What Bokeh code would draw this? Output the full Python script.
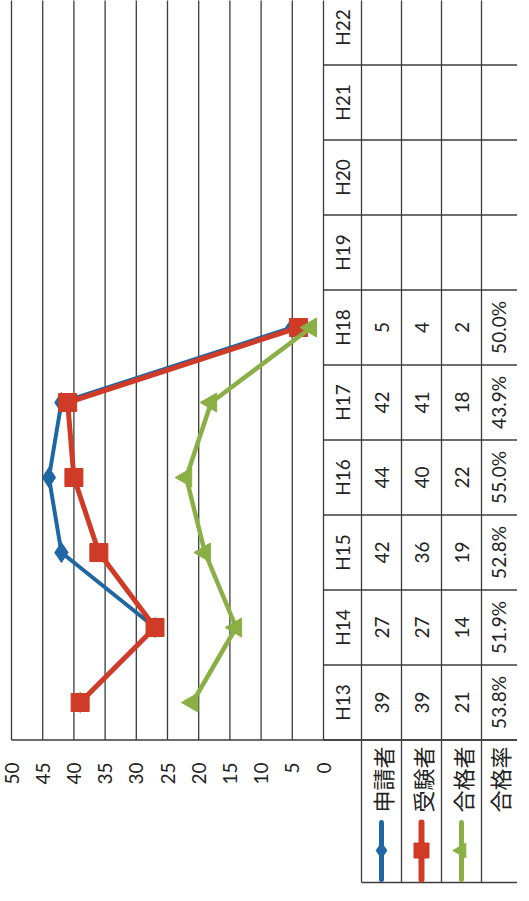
import math
from bokeh.plotting import figure
from bokeh.models import Range1d
from bokeh.core.properties import value
from bokeh.embed import file_html
from bokeh.resources import INLINE

categories = ["H13", "H14", "H15", "H16", "H17", "H18", "H19", "H20", "H21", "H22"]
applicants = [39, 27, 42, 44, 42, 5]      # 申請者
examinees = [39, 27, 36, 40, 41, 4]       # 受験者
passed = [21, 14, 19, 22, 18, 2]          # 合格者
pass_rate = ["53.8%", "51.9%", "52.8%", "55.0%", "43.9%", "50.0%"]  # 合格率
series_names = ["申請者", "受験者", "合格者", "合格率"]
ticks = [0, 5, 10, 15, 20, 25, 30, 35, 40, 45, 50]

BLUE = "#1F67A3"
RED = "#CF3B26"
GREEN = "#8AB045"
GRID = "#3c3c3c"
NUM_FONT = value("Lato")
JP_FONT = value("Noto Sans CJK JP")

W, H = 517, 885

# layout helpers: page pixel -> data units (value axis is horizontal, reversed; categories vertical)
def X(px):
    return (331 - px) / 6.24

def Y(py):
    return (710 - py) / 75.0

p = figure(width=W, height=H,
           x_range=Range1d(X(8), X(8 + W)), y_range=Range1d(Y(8 + H), Y(8)),
           output_backend="svg", toolbar_location=None, min_border=0,
           x_axis_location=None, y_axis_location=None)
p.grid.visible = False
p.outline_line_color = None
p.background_fill_color = "white"

n = len(categories)
idx = list(range(n))
top = n + 0.5

# value gridlines (vertical), incl. left border at 50
p.segment(x0=ticks, y0=[-0.5] * len(ticks), x1=ticks, y1=[top + 1] * len(ticks),
          line_color=GRID, line_width=1.3)
# bottom border of plot area
p.segment(x0=[max(ticks)], y0=[-0.5], x1=[X(540)], y1=[-0.5], line_color=GRID, line_width=1.3)

# tick labels
p.text(x=ticks, y=[Y(770)] * len(ticks), text=[str(t) for t in ticks], angle=math.pi / 2,
       text_align="right", text_baseline="middle", text_font=NUM_FONT,
       text_font_size="19px", text_color="#222222")

# data table grid
col_edges = [X(369), X(409), X(449), X(489)]
p.segment(x0=col_edges, y0=[Y(890)] * 4, x1=col_edges, y1=[top + 1] * 4,
          line_color=GRID, line_width=1.3)
row_edges = [i + 0.5 for i in range(-1, n)]
p.segment(x0=[0] * len(row_edges), y0=row_edges, x1=[X(540)] * len(row_edges), y1=row_edges,
          line_color=GRID, line_width=1.3)
p.segment(x0=[X(369)], y0=[Y(890)], x1=[X(540)], y1=[Y(890)], line_color=GRID, line_width=1.3)

# table texts
col_centers = [X(389), X(429), X(469), X(506)]
p.text(x=[X(350)] * n, y=idx, text=categories, angle=math.pi / 2,
       text_align="center", text_baseline="middle", text_font=NUM_FONT,
       text_font_size="19px", text_color="#222222")
for cx, vals in zip(col_centers, [applicants, examinees, passed, pass_rate]):
    p.text(x=[cx] * len(vals), y=idx[:len(vals)], text=[str(v) for v in vals], angle=math.pi / 2,
           text_align="center", text_baseline="middle", text_font=NUM_FONT,
           text_font_size="19px", text_color="#222222")

# series name (legend) cells
p.text(x=col_centers, y=[Y(754)] * 4, text=series_names, angle=math.pi / 2,
       text_align="right", text_baseline="middle", text_font=JP_FONT,
       text_font_size="22px", text_color="#222222")

# series lines
m = len(applicants)
p.line(x=applicants, y=idx[:m], line_color=BLUE, line_width=4)
p.scatter(x=applicants, y=idx[:m], marker="diamond", size=20, fill_color=BLUE, line_color=BLUE)
p.line(x=examinees, y=idx[:m], line_color=RED, line_width=5)
p.scatter(x=examinees, y=idx[:m], marker="square", size=18, fill_color=RED, line_color=RED)
p.line(x=passed, y=idx[:m], line_color=GREEN, line_width=4.5)
p.scatter(x=passed, y=idx[:m], marker="triangle", size=19, angle=math.pi / 2,
          fill_color=GREEN, line_color=GREEN)

# legend keys
key_y0, key_y1, key_mid = Y(887), Y(830), Y(858)
for cx, col, mk, sz, lw in [(col_centers[0], BLUE, "diamond", 16, 5),
                            (col_centers[1], RED, "square", 15, 6),
                            (col_centers[2], GREEN, "triangle", 15, 5)]:
    p.segment(x0=[cx], y0=[key_y0], x1=[cx], y1=[key_y1], line_color=col, line_width=lw,
              line_cap="round")
    p.scatter(x=[cx], y=[key_mid], marker=mk, size=sz, angle=math.pi / 2 if mk == "triangle" else 0,
              fill_color=col, line_color=col)

open("out.html", "w").write(file_html(p, INLINE))
